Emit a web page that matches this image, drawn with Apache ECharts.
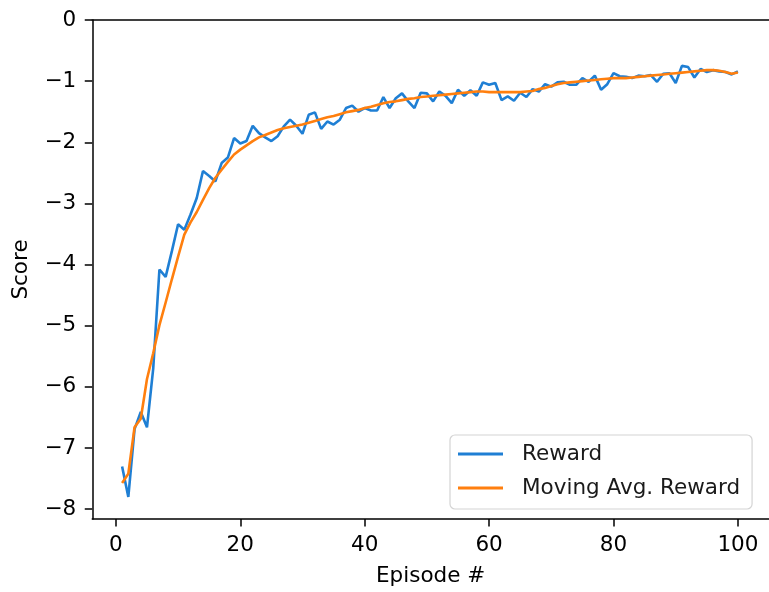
<!DOCTYPE html>
<html>
<head>
<meta charset="utf-8">
<script src="https://cdn.jsdelivr.net/npm/echarts@6/dist/echarts.min.js"></script>
<style>html,body{margin:0;padding:0;background:#fff}#c{width:769px;height:592px}</style>
</head>
<body>
<div id="c"></div>
<script>
const episodes = Array.from({length: 100}, (_, i) => i + 1);
const reward = [
  -7.30, -7.80, -6.69, -6.41, -6.66, -5.70, -4.08, -4.20, -3.78, -3.34,
  -3.43, -3.18, -2.91, -2.47, -2.55, -2.64, -2.34, -2.25, -1.93, -2.02,
  -1.98, -1.73, -1.85, -1.92, -1.98, -1.90, -1.74, -1.63, -1.73, -1.86,
  -1.55, -1.51, -1.78, -1.66, -1.71, -1.63, -1.44, -1.40, -1.50, -1.44,
  -1.48, -1.48, -1.26, -1.44, -1.28, -1.20, -1.33, -1.44, -1.19, -1.20,
  -1.33, -1.17, -1.24, -1.36, -1.14, -1.24, -1.15, -1.24, -1.02, -1.06,
  -1.03, -1.31, -1.25, -1.32, -1.19, -1.26, -1.13, -1.17, -1.05, -1.09,
  -1.02, -1.01, -1.06, -1.06, -0.95, -1.01, -0.91, -1.14, -1.05, -0.87,
  -0.92, -0.93, -0.95, -0.91, -0.92, -0.90, -1.01, -0.88, -0.87, -1.03,
  -0.75, -0.77, -0.94, -0.80, -0.85, -0.82, -0.84, -0.85, -0.89, -0.84
];
const movingAvg = [
  -7.57, -7.42, -6.66, -6.52, -5.87, -5.45, -4.99, -4.62, -4.24, -3.87,
  -3.51, -3.31, -3.14, -2.94, -2.75, -2.58, -2.45, -2.32, -2.20, -2.12,
  -2.05, -1.98, -1.92, -1.88, -1.84, -1.80, -1.77, -1.75, -1.73, -1.71,
  -1.68, -1.65, -1.62, -1.59, -1.57, -1.54, -1.51, -1.49, -1.47, -1.44,
  -1.42, -1.39, -1.36, -1.34, -1.33, -1.31, -1.29, -1.28, -1.26, -1.25,
  -1.24, -1.23, -1.22, -1.21, -1.20, -1.19, -1.18, -1.17, -1.17, -1.18,
  -1.18, -1.18, -1.18, -1.18, -1.18, -1.17, -1.16, -1.13, -1.11, -1.08,
  -1.05, -1.03, -1.02, -1.01, -1.00, -0.99, -0.98, -0.97, -0.96, -0.95,
  -0.95, -0.95, -0.94, -0.93, -0.92, -0.91, -0.90, -0.89, -0.88, -0.87,
  -0.86, -0.85, -0.84, -0.83, -0.82, -0.82, -0.83, -0.85, -0.88, -0.86
];
const xTicks = [0, 20, 40, 60, 80, 100];
const yTicks = [-8, -7, -6, -5, -4, -3, -2, -1, 0];
const seriesNames = ['Reward', 'Moving Avg. Reward'];
const xTitle = 'Episode #';
const yTitle = 'Score';

const FONT = 'DejaVu Sans';
const FS = 21.5;
const chart = echarts.init(document.getElementById('c'), null, {renderer: 'canvas'});
const fmt = v => String(v).replace('-', '\u2212');
const axisLineStyle = {color: '#000', width: 1.5};

chart.setOption({
  animation: false,
  backgroundColor: '#fff',
  grid: {left: 92.25, top: 20, width: 680, height: 500.7, containLabel: false},
  legend: {
    data: seriesNames,
    orient: 'vertical',
    left: 450, top: 435,
    icon: 'rect',
    itemWidth: 45, itemHeight: 3,
    itemGap: 8,
    padding: [6, 12, 8, 8],
    backgroundColor: 'rgba(255,255,255,0.85)',
    borderColor: '#d4d4d4', borderWidth: 1.2, borderRadius: 5,
    textStyle: {fontFamily: FONT, fontSize: FS, color: '#1a1a1a', lineHeight: 26, padding: [0, 0, 0, 14]}
  },
  xAxis: [{
    type: 'value', min: -3.8, max: 105,
    name: xTitle, nameLocation: 'middle', nameGap: 46,
    nameTextStyle: {fontFamily: FONT, fontSize: FS, color: '#000'},
    axisLine: {show: true, onZero: false, lineStyle: axisLineStyle},
    axisTick: {show: true, length: 7.5, lineStyle: axisLineStyle, customValues: xTicks},
    axisLabel: {fontFamily: FONT, fontSize: FS, color: '#000', margin: 15, customValues: xTicks, formatter: fmt},
    splitLine: {show: false}
  }, {
    type: 'value', min: -3.8, max: 105, position: 'top',
    axisLine: {show: true, onZero: false, lineStyle: axisLineStyle},
    axisTick: {show: false}, axisLabel: {show: false}, splitLine: {show: false}
  }],
  yAxis: [{
    type: 'value', min: -8.16, max: 0,
    name: yTitle, nameLocation: 'middle', nameGap: 60, nameRotate: 90,
    nameTextStyle: {fontFamily: FONT, fontSize: FS, color: '#000'},
    axisLine: {show: true, onZero: false, lineStyle: axisLineStyle},
    axisTick: {show: true, length: 7.5, lineStyle: axisLineStyle, customValues: yTicks},
    axisLabel: {fontFamily: FONT, fontSize: FS, color: '#000', margin: 16, customValues: yTicks, formatter: fmt},
    splitLine: {show: false}
  }],
  series: [{
    name: seriesNames[0], type: 'line', showSymbol: false, symbol: 'none',
    data: episodes.map((e, i) => [e, reward[i]]),
    lineStyle: {color: '#1f7fd4', width: 2.6}, itemStyle: {color: '#1f7fd4'}
  }, {
    name: seriesNames[1], type: 'line', showSymbol: false, symbol: 'none',
    data: episodes.map((e, i) => [e, movingAvg[i]]),
    lineStyle: {color: '#ff7f0e', width: 2.6}, itemStyle: {color: '#ff7f0e'}
  }]
});
</script>
</body>
</html>
